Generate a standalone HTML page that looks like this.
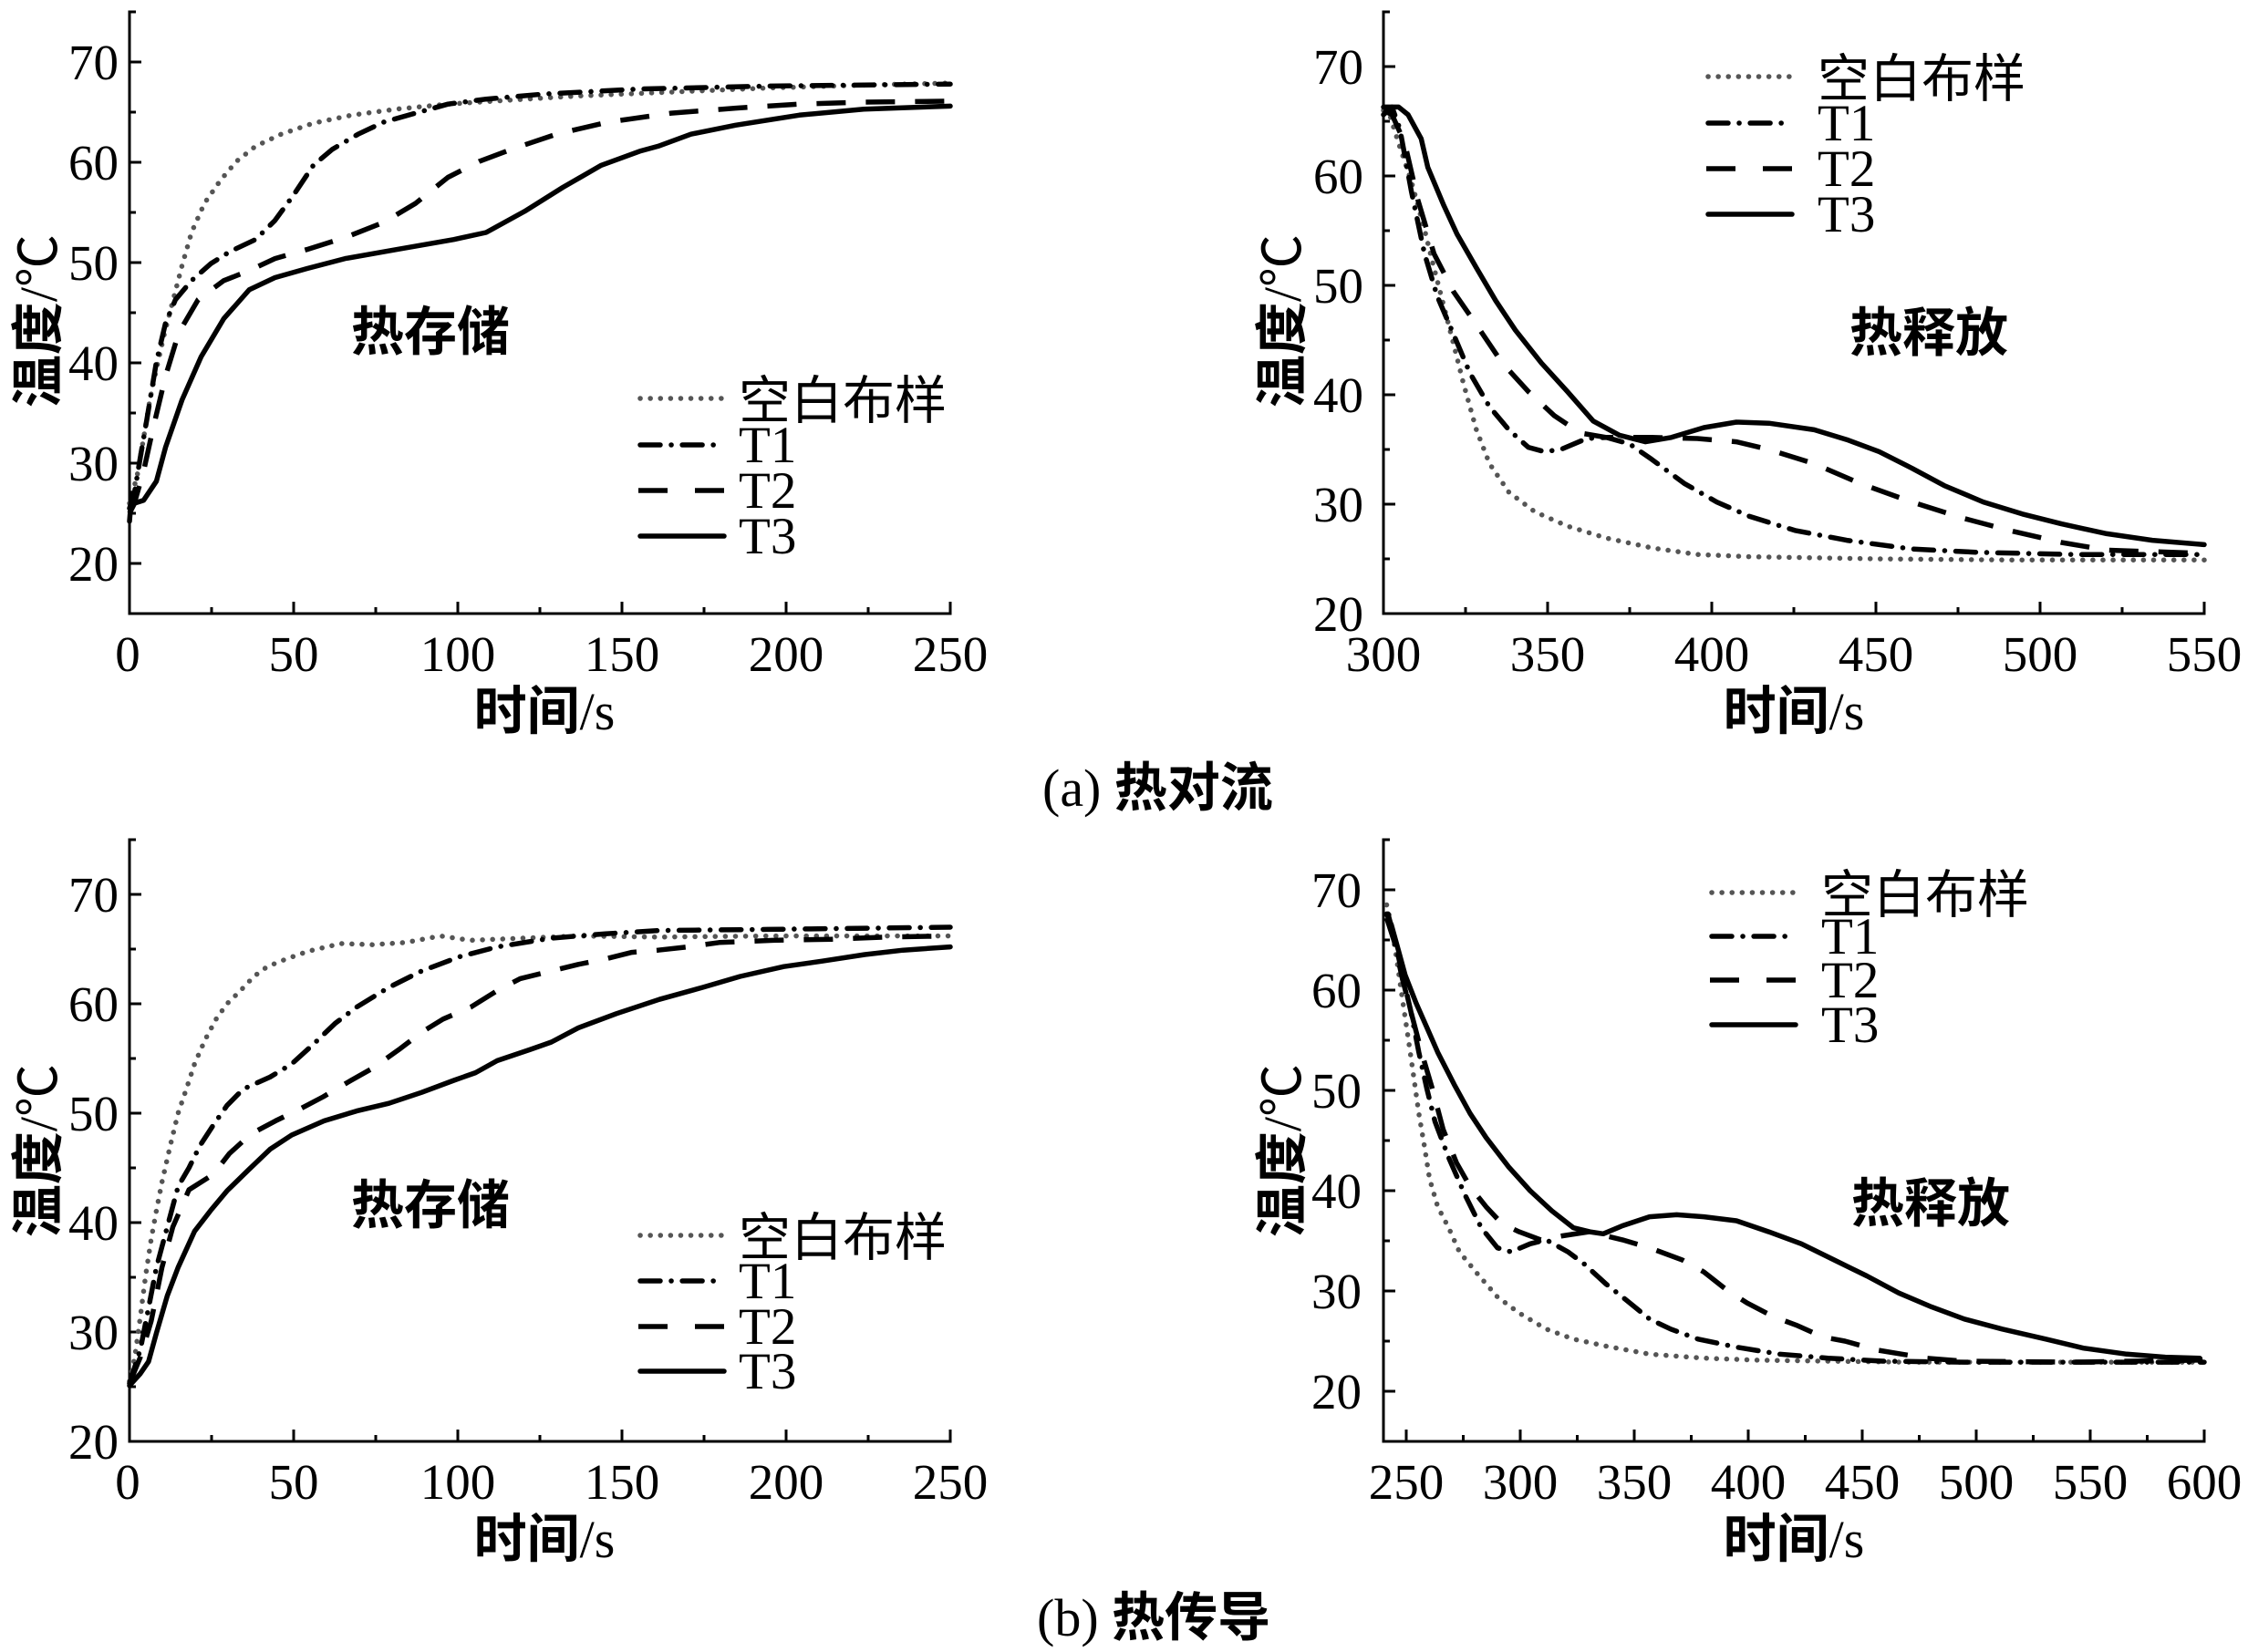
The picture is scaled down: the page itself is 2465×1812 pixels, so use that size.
<!DOCTYPE html>
<html><head><meta charset="utf-8"><style>
html,body{margin:0;padding:0;background:#fff}
svg{display:block}
.ax{stroke:#000;stroke-width:3;fill:none;stroke-linecap:square}
.tk{stroke:#000;stroke-width:3;fill:none}
.num{font-family:"Liberation Serif",serif;font-size:55px;fill:#000}
.lg{font-family:"Liberation Serif","Noto Sans CJK SC",serif;font-size:57px;fill:#000}
.cjk{font-family:"Noto Sans CJK SC","WenQuanYi Zen Hei",sans-serif}
.b{font-weight:bold}
.ttl{font-family:"Liberation Serif","Noto Sans CJK SC",serif;font-size:58px;fill:#000}
.dot{fill:none;stroke:#555;stroke-width:5.5;stroke-linecap:round;stroke-linejoin:round;stroke-dasharray:0.1 11}
.dd{fill:none;stroke:#000;stroke-width:5.5;stroke-linecap:round;stroke-linejoin:round;stroke-dasharray:22 12 0.1 12}
.ds{fill:none;stroke:#000;stroke-width:5.5;stroke-linecap:butt;stroke-linejoin:round;stroke-dasharray:32 22}
.sl{fill:none;stroke:#000;stroke-width:5.5;stroke-linecap:round;stroke-linejoin:round}
</style></head><body>
<svg width="2465" height="1812" viewBox="0 0 2465 1812" xmlns="http://www.w3.org/2000/svg">
<rect width="2465" height="1812" fill="#fff"/>

<!-- ================= TOP-LEFT ================= -->
<path class="ax" d="M142 13 V673 H1042"/>
<path class="tk" d="M142 618h13M142 508h13M142 398h13M142 288h13M142 178h13M142 68h13
M142 563h7M142 453h7M142 343h7M142 233h7M142 123h7M142 13h7
M322 673v-13M502 673v-13M682 673v-13M862 673v-13M1042 673v-13
M232 673v-7M412 673v-7M592 673v-7M772 673v-7M952 673v-7"/>
<g class="num" text-anchor="end">
<text x="130" y="637">20</text><text x="130" y="527">30</text><text x="130" y="417">40</text>
<text x="130" y="307">50</text><text x="130" y="197">60</text><text x="130" y="87">70</text>
</g>
<g class="num" text-anchor="middle">
<text x="140" y="736">0</text><text x="322" y="736">50</text><text x="502" y="736">100</text>
<text x="682" y="736">150</text><text x="862" y="736">200</text><text x="1042" y="736">250</text>
</g>
<text class="ttl" x="597" y="800" text-anchor="middle"><tspan class="cjk b">时间</tspan>/s</text>
<text class="ttl" transform="translate(40,352) rotate(-90)" y="22" text-anchor="middle"><tspan class="cjk b">温度</tspan>/<tspan class="cjk">℃</tspan></text>
<text class="ttl cjk b" x="385" y="384">热存储</text>

<polyline class="dot" points="142,552 150.3,522.3 157.5,480.5 164.3,438.7 171.5,404.6 180.5,365 188.8,333.1 199.6,291.3 210,255 224.1,223.1 241.7,197.8 259.4,176.9 280.2,160.4 308.3,147.2 343.6,135.1 385.7,126.3 434.7,119.7 491.2,114.2 559.6,109.8 631.6,105.4 736,101 840.4,96.6 948.4,93.3 1042,91.1"/>
<polyline class="dd" points="142,557.5 147,543.2 153.9,501.4 161.1,459.6 171.5,396.9 181.6,354 192.4,328.7 210,307.8 231.3,289.1 252.2,275.9 280.2,262.7 301.5,241.8 322.4,213.2 343.6,181.3 364.5,163.7 392.6,147.2 420.6,134 455.6,124.1 491.2,114.2 533,108.7 595.6,103.2 700,97.7 840.4,94.4 1042,92.2"/>
<polyline class="ds" points="142,563 147,553.1 157.5,516.8 167.9,469.5 181.6,412.3 196,365 217.2,328.7 245.3,307.8 273.4,296.8 301.5,283.6 336.4,273.7 378.5,260.5 420.6,244 455.6,223.1 491.2,194.5 525.8,176.9 561,163.7 610,147.2 666.2,134 736,124.1 806.6,118.6 876.4,114.2 947,112 1042,110.9"/>
<polyline class="sl" points="142,571.8 144.5,541 147.4,552 157.5,548.7 171.5,527.8 181.6,490.4 199.6,438.7 220.5,391.4 245.3,349.6 273.4,317.7 301.5,304.5 336.4,294.6 378.5,283.6 434.7,273.7 497.7,262.7 533,255 575.1,231.9 617.2,205.5 659.3,181.3 701.4,165.9 721.6,160.4 757.6,147.2 806.6,137.3 876.4,126.3 947,119.7 1042,116.4"/>

<!-- legend TL -->
<line class="dot" x1="702" y1="437" x2="794" y2="437"/>
<line class="dd" x1="702" y1="488" x2="794" y2="488"/>
<line class="ds" x1="700" y1="538" x2="794" y2="538" style="stroke-dasharray:32 30"/>
<line class="sl" x1="702" y1="588" x2="794" y2="588"/>
<text class="lg cjk" x="810" y="459">空白布样</text>
<text class="lg" x="810" y="507">T1</text>
<text class="lg" x="810" y="557">T2</text>
<text class="lg" x="810" y="607">T3</text>

<!-- ================= TOP-RIGHT ================= -->
<path class="ax" d="M1517 13 V673 H2417"/>
<path class="tk" d="M1517 553h13M1517 433h13M1517 313h13M1517 193h13M1517 73h13
M1517 613h7M1517 493h7M1517 373h7M1517 253h7M1517 133h7M1517 13h7
M1697 673v-13M1877 673v-13M2057 673v-13M2237 673v-13M2417 673v-13
M1607 673v-7M1787 673v-7M1967 673v-7M2147 673v-7M2327 673v-7"/>
<g class="num" text-anchor="end">
<text x="1495" y="692">20</text><text x="1495" y="572">30</text><text x="1495" y="452">40</text>
<text x="1495" y="332">50</text><text x="1495" y="212">60</text><text x="1495" y="92">70</text>
</g>
<g class="num" text-anchor="middle">
<text x="1517" y="736">300</text><text x="1697" y="736">350</text><text x="1877" y="736">400</text>
<text x="2057" y="736">450</text><text x="2237" y="736">500</text><text x="2417" y="736">550</text>
</g>
<text class="ttl" x="1967" y="800" text-anchor="middle"><tspan class="cjk b">时间</tspan>/s</text>
<text class="ttl" transform="translate(1404,352) rotate(-90)" y="22" text-anchor="middle"><tspan class="cjk b">温度</tspan>/<tspan class="cjk">℃</tspan></text>
<text class="ttl cjk b" x="2028" y="385">热释放</text>

<polyline class="dot" points="1517,121 1524.2,127 1533.6,157 1547.6,199 1562,251.8 1572.4,293.8 1583.2,335.8 1594,377.8 1604.5,419.8 1618.9,471.4 1633.3,508.6 1654.5,539.8 1683,561.4 1718.6,577 1761.4,590.2 1811.5,601 1861.2,608.2 1918,610.6 2060.6,613 2203.2,614.2 2417,614.2"/>
<polyline class="dd" points="1517,125.8 1526.4,117.4 1535,141.4 1547.6,209.8 1562,278.2 1576,325 1594,367 1611.7,409 1633.3,446.2 1654.5,471.4 1675.8,490.6 1693.4,495.4 1711.4,493 1739.8,481 1761.8,479.8 1787,487 1811.1,503.8 1846.8,530.2 1882.4,550.6 1918,566.2 1968.1,581.8 2025,592.6 2096.6,602.2 2167.5,605.8 2274.4,608.2 2417,608.2"/>
<polyline class="ds" points="1517,121 1526.4,125.8 1540.4,157 1554.8,219.4 1572.4,278.2 1594,320.2 1618.9,356.2 1647.3,398.2 1675.8,429.4 1704.2,455.8 1733,475 1761.4,479.8 1811.1,479.8 1861.2,481 1904,484.6 1939.6,493 1989.3,508.6 2039.4,530.2 2096.2,550.6 2153.5,568.6 2203.2,581.8 2260.4,595 2310.1,603.4 2417,607"/>
<polyline class="sl" points="1517,117.4 1533.6,117.4 1544,125.8 1558.4,152.2 1565.6,183.4 1583.2,225.4 1597.6,256.6 1618.9,293.8 1640.1,329.8 1661.7,362.2 1690.2,398.2 1718.6,429.4 1747,461.8 1775.8,477.4 1804.3,484.6 1832.7,479.8 1868.4,469 1904,463 1939.6,464.2 1989.3,471.4 2025,482.2 2060.6,495.4 2096.2,513.4 2131.9,532.6 2174.7,550.6 2217.6,563.8 2260.4,574.6 2310.1,585.4 2360.1,592.6 2417,597.4"/>

<!-- legend TR -->
<line class="dot" x1="1873" y1="84" x2="1965" y2="84"/>
<line class="dd" x1="1873" y1="135" x2="1965" y2="135"/>
<line class="ds" x1="1871" y1="185" x2="1965" y2="185" style="stroke-dasharray:32 30"/>
<line class="sl" x1="1873" y1="235" x2="1965" y2="235"/>
<text class="lg cjk" x="1993" y="106">空白布样</text>
<text class="lg" x="1993" y="154">T1</text>
<text class="lg" x="1993" y="204">T2</text>
<text class="lg" x="1993" y="254">T3</text>

<!-- caption a -->
<text class="ttl" x="1143" y="884"><tspan>(a) </tspan><tspan class="cjk b">热对流</tspan></text>

<!-- ================= BOTTOM-LEFT ================= -->
<path class="ax" d="M142 921 V1581 H1042"/>
<path class="tk" d="M142 1461h13M142 1341h13M142 1221h13M142 1101h13M142 981h13
M142 1521h7M142 1401h7M142 1281h7M142 1161h7M142 1041h7M142 921h7
M322 1581v-13M502 1581v-13M682 1581v-13M862 1581v-13M1042 1581v-13
M232 1581v-7M412 1581v-7M592 1581v-7M772 1581v-7M952 1581v-7"/>
<g class="num" text-anchor="end">
<text x="130" y="1600">20</text><text x="130" y="1480">30</text><text x="130" y="1360">40</text>
<text x="130" y="1240">50</text><text x="130" y="1120">60</text><text x="130" y="1000">70</text>
</g>
<g class="num" text-anchor="middle">
<text x="140" y="1644">0</text><text x="322" y="1644">50</text><text x="502" y="1644">100</text>
<text x="682" y="1644">150</text><text x="862" y="1644">200</text><text x="1042" y="1644">250</text>
</g>
<text class="ttl" x="597" y="1708" text-anchor="middle"><tspan class="cjk b">时间</tspan>/s</text>
<text class="ttl" transform="translate(40,1262) rotate(-90)" y="22" text-anchor="middle"><tspan class="cjk b">温度</tspan>/<tspan class="cjk">℃</tspan></text>
<text class="ttl cjk b" x="385" y="1342">热存储</text>

<polyline class="dot" points="142,1515 147.8,1488.6 153.9,1444.2 159.6,1399.8 165.8,1359 171.5,1327.8 177.6,1296.6 186.6,1257 195.3,1221 204.3,1194.6 213.3,1167 224.8,1140.6 237,1117.8 248.9,1101 263.7,1086.6 278.4,1071 293.2,1060.2 314.1,1051.8 337.8,1043.4 373.5,1035 408.4,1036.2 444.4,1033.8 482.9,1026.6 515.7,1031.4 574,1029 634.1,1026.6 721.6,1027.8 840.4,1026.6 1042,1026.6"/>
<polyline class="dd" points="142,1517.4 153.9,1480.2 162.9,1434.6 171.5,1390.2 183.4,1345.8 195.3,1301.4 207.2,1281 219,1257 233.8,1234.2 248.9,1212.6 266.6,1194.6 296.1,1181.4 319.8,1167 343.6,1145.4 367.4,1122.6 391.1,1104.6 426.4,1083 462.4,1065 503.8,1049.4 545.2,1038.6 604.6,1029 664,1024.2 723,1020.6 841.8,1019.4 1042,1017"/>
<polyline class="ds" points="142,1517.4 153.9,1488.6 165.8,1449 177.6,1390.2 189.5,1345.8 207.2,1305 233.8,1288.2 251.4,1265.4 275.2,1243.8 302.2,1229.4 329.2,1216.2 354.4,1203 385,1185 408.4,1171.8 437.2,1151.4 462.4,1132.2 485.8,1117.8 516.4,1104.6 545.2,1086.6 570.4,1073.4 604.6,1065 634.1,1057.8 664,1051.8 692.8,1044.6 721.6,1042.2 754,1038.6 788.6,1033.8 847.6,1031.4 912.4,1030.2 972.2,1027.8 1042,1026.6"/>
<polyline class="sl" points="142,1519.8 153.9,1506.6 162.9,1493.4 171.5,1462.2 183.4,1421.4 195.3,1390.2 213.3,1350.6 230.9,1327.8 248.9,1306.2 272.3,1283.4 296.1,1260.6 319.8,1245 355.5,1229.4 391.1,1218.6 426.4,1210.2 462.4,1198.2 497.7,1185 521.4,1176.6 545.2,1163.4 580.8,1151.4 604.6,1143 634.1,1127.4 675.9,1111.8 723,1096.2 770.6,1083 811.6,1071 859.5,1060.2 901.6,1054.2 948.4,1047 990.2,1042.2 1042,1038.6"/>

<!-- legend BL -->
<line class="dot" x1="702" y1="1355" x2="794" y2="1355"/>
<line class="dd" x1="702" y1="1405" x2="794" y2="1405"/>
<line class="ds" x1="700" y1="1455" x2="794" y2="1455" style="stroke-dasharray:32 30"/>
<line class="sl" x1="702" y1="1504" x2="794" y2="1504"/>
<text class="lg cjk" x="810" y="1377">空白布样</text>
<text class="lg" x="810" y="1424">T1</text>
<text class="lg" x="810" y="1474">T2</text>
<text class="lg" x="810" y="1523">T3</text>

<!-- ================= BOTTOM-RIGHT ================= -->
<path class="ax" d="M1517 921 V1581 H2417"/>
<path class="tk" d="M1517 1526h13M1517 1416h13M1517 1306h13M1517 1196h13M1517 1086h13M1517 976h13
M1517 1471h7M1517 1361h7M1517 1251h7M1517 1141h7M1517 1031h7M1517 921h7
M1542 1581v-13M1667 1581v-13M1792 1581v-13M1917 1581v-13M2042 1581v-13M2167 1581v-13M2292 1581v-13M2417 1581v-13
M1604.5 1581v-7M1729.5 1581v-7M1854.5 1581v-7M1979.5 1581v-7M2104.5 1581v-7M2229.5 1581v-7M2354.5 1581v-7"/>
<g class="num" text-anchor="end">
<text x="1493" y="1545">20</text><text x="1493" y="1435">30</text><text x="1493" y="1325">40</text>
<text x="1493" y="1215">50</text><text x="1493" y="1105">60</text><text x="1493" y="995">70</text>
</g>
<g class="num" text-anchor="middle">
<text x="1542" y="1644">250</text><text x="1667" y="1644">300</text><text x="1792" y="1644">350</text>
<text x="1917" y="1644">400</text><text x="2042" y="1644">450</text><text x="2167" y="1644">500</text>
<text x="2292" y="1644">550</text><text x="2417" y="1644">600</text>
</g>
<text class="ttl" x="1967" y="1708" text-anchor="middle"><tspan class="cjk b">时间</tspan>/s</text>
<text class="ttl" transform="translate(1404,1262) rotate(-90)" y="22" text-anchor="middle"><tspan class="cjk b">温度</tspan>/<tspan class="cjk">℃</tspan></text>
<text class="ttl cjk b" x="2030" y="1340">热释放</text>

<polyline class="dot" points="1520.5,992.5 1526,1015.6 1532,1055.2 1537.8,1095.9 1543.8,1136.6 1549.5,1176.2 1555.8,1221.3 1561.8,1256.5 1567.5,1292.8 1576.5,1323.6 1588.5,1346.7 1600.3,1373.1 1618.3,1395.1 1642,1422.6 1665.8,1440.2 1695.5,1457.8 1725.3,1468.8 1761,1476.5 1808.8,1485.3 1868.3,1489.7 1927.8,1491.9 2004.5,1493 2094.5,1494.1 2417,1494.1"/>
<polyline class="dd" points="1522,1002.4 1529,1028.8 1537.8,1069.5 1547,1109.1 1555.8,1154.2 1564.5,1193.8 1573.5,1230.1 1588.5,1269.7 1606.3,1310.4 1624.3,1346.7 1642,1368.7 1657,1373.1 1677.8,1364.3 1695.5,1359.9 1719.3,1373.1 1737,1386.3 1761,1408.3 1784.5,1427 1808.8,1446.8 1832,1457.8 1862,1468.8 1904,1477.6 1951.5,1485.3 2004.5,1489.7 2064.5,1493 2154,1494.1 2417,1494.1"/>
<polyline class="ds" points="1520.5,1006.8 1529,1033.2 1537.8,1073.9 1547,1109.1 1558.8,1154.2 1570.5,1193.8 1582.5,1238.9 1597,1275.2 1612,1301.6 1629.5,1323.6 1647,1342.3 1665.8,1351.1 1689.5,1359.9 1713.5,1355.5 1742,1351.1 1779,1359.9 1808.8,1368.7 1844.5,1381.9 1868.3,1395.1 1892,1413.8 1915.8,1429.2 1945.5,1444.6 1969.5,1453.4 1999.3,1466.6 2023,1471 2058.8,1480.9 2085.5,1485.3 2112,1489.7 2154,1493 2272,1494.1 2409.5,1491.9 2417,1490.8"/>
<polyline class="sl" points="1520.5,1002.4 1526,1015.6 1533.3,1042 1540.8,1069.5 1552.8,1100.3 1564.5,1126.7 1576.5,1154.2 1594.5,1189.4 1612,1221.3 1629.5,1247.7 1654,1279.6 1677.8,1306 1701.5,1328 1725.3,1346.7 1743.3,1351.1 1758,1353.3 1779,1344.5 1808.8,1334.6 1838.5,1332.4 1868.3,1334.6 1904,1339 1939.5,1351.1 1975.3,1364.3 2011,1381.9 2047,1399.5 2082,1418.2 2118.3,1433.6 2154,1446.8 2195.5,1457.8 2243.3,1468.8 2284.5,1478.7 2332,1485.3 2374.3,1488.6 2412,1489.7"/>

<!-- legend BR -->
<line class="dot" x1="1877" y1="979" x2="1969" y2="979"/>
<line class="dd" x1="1877" y1="1027" x2="1969" y2="1027"/>
<line class="ds" x1="1875" y1="1075" x2="1969" y2="1075" style="stroke-dasharray:32 30"/>
<line class="sl" x1="1877" y1="1124" x2="1969" y2="1124"/>
<text class="lg cjk" x="1997" y="1001">空白布样</text>
<text class="lg" x="1997" y="1046">T1</text>
<text class="lg" x="1997" y="1094">T2</text>
<text class="lg" x="1997" y="1143">T3</text>

<!-- caption b -->
<text class="ttl" x="1137" y="1794"><tspan>(b) </tspan><tspan class="cjk b">热传导</tspan></text>
</svg>
</body></html>
